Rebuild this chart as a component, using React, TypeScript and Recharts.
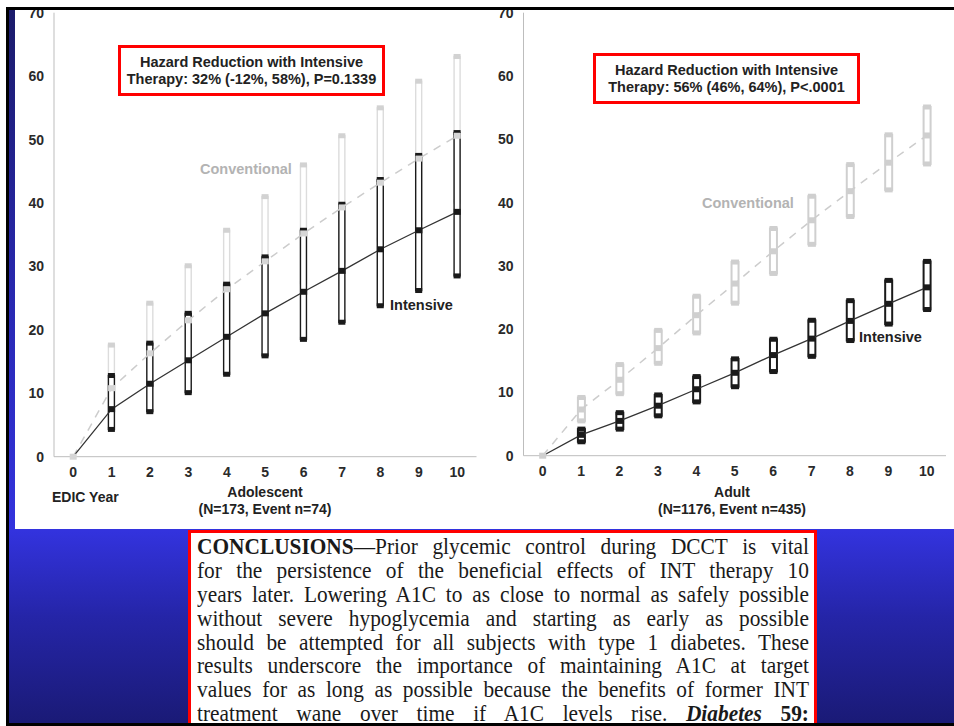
import React from "react";
import { ComposedChart, Line, Bar, XAxis, YAxis } from "recharts";

const years = [0, 1, 2, 3, 4, 5, 6, 7, 8, 9, 10];
const yTicks = [0, 10, 20, 30, 40, 50, 60, 70];

// Adolescent (N=173)
const adoInt = [0, 7.5, 11.5, 15.2, 18.9, 22.6, 26.0, 29.3, 32.7, 35.7, 38.6];
const adoIntLo = [null, 4.3, 7.1, 10.1, 13.0, 15.9, 18.5, 21.2, 23.8, 26.2, 28.5];
const adoIntHi = [null, 12.8, 17.9, 22.6, 27.2, 31.5, 35.7, 39.8, 43.7, 47.5, 51.1];
const adoConv = [0, 10.8, 16.3, 21.5, 26.4, 30.8, 35.2, 39.3, 43.2, 47.0, 50.6];
const adoConvLo = [null, 6.8, 11.0, 15.2, 19.4, 23.4, 27.3, 30.7, 34.2, 37.3, 40.2];
const adoConvHi = [null, 17.6, 24.2, 30.1, 35.7, 41.0, 46.0, 50.6, 55.0, 59.2, 63.1];

// Adult (N=1176)
const aduInt = [0, 3.3, 5.5, 7.9, 10.5, 13.1, 15.9, 18.5, 21.3, 24.0, 26.6];
const aduIntLo = [null, 2.2, 4.2, 6.3, 8.5, 10.9, 13.3, 15.7, 18.2, 20.8, 23.1];
const aduIntHi = [null, 4.2, 6.8, 9.6, 12.5, 15.3, 18.4, 21.4, 24.5, 27.7, 30.7];
const aduConv = [0, 7.3, 12.0, 17.0, 22.2, 27.2, 32.3, 37.2, 41.8, 46.3, 50.6];
const aduConvLo = [null, 5.5, 9.8, 14.6, 19.4, 24.1, 28.8, 33.4, 37.8, 42.0, 46.1];
const aduConvHi = [null, 9.2, 14.4, 19.8, 25.2, 30.6, 35.9, 41.0, 46.0, 50.7, 55.1];

const conclusionLines = [
  "for the persistence of the beneficial effects of INT therapy 10",
  "years later. Lowering A1C to as close to normal as safely possible",
  "without severe hypoglycemia and starting as early as possible",
  "should be attempted for all subjects with type 1 diabetes. These",
  "results underscore the importance of maintaining A1C at target",
  "values for as long as possible because the benefits of former INT",
];

const FONT = '"Liberation Sans", Arial, sans-serif';

const buildRows = (int: any[], intLo: any[], intHi: any[], conv: any[], convLo: any[], convHi: any[]) =>
  years.map((year, i) => ({
    year,
    int: int[i],
    conv: conv[i],
    intRange: intLo[i] == null ? null : [intLo[i], intHi[i]],
    convRange: convLo[i] == null ? null : [convLo[i], convHi[i]],
  }));

const ciShape = (stroke: string, cap: string, sw: number, capW: number) => (props: any) => {
  const { x, y, width, height } = props;
  if (x == null || y == null || !height) return <g />;
  const cx = x + width / 2;
  return (
    <g>
      <rect x={x} y={y} width={width} height={height} fill="#fff" stroke={stroke} strokeWidth={sw} />
      <rect x={cx - capW / 2} y={y - 2.5} width={capW} height={5} fill={cap} />
      <rect x={cx - capW / 2} y={y + height - 2.5} width={capW} height={5} fill={cap} />
    </g>
  );
};

const squareDot = (fill: string, w: number, h: number, skipFirst: boolean) => (props: any) => {
  const { cx, cy, index } = props;
  if (cx == null || cy == null || (skipFirst && index === 0)) return <g key={index} />;
  return <rect key={index} x={cx - w / 2} y={cy - h / 2} width={w} height={h} fill={fill} />;
};

const tickStyle = { fill: "#2a2a2a", fontSize: 14, fontWeight: 700, fontFamily: FONT };

function Panel({ rows, width, yWidth, right, bottom, heavy }: any) {
  const convStroke = heavy ? "#cfcfcf" : "#dcdcdc";
  const convCap = heavy ? "#cfcfcf" : "#d2d2d2";
  const barW = heavy ? 7 : 6;
  const sw = heavy ? 2 : 1.4;
  return (
    <ComposedChart width={width} height={500} data={rows} margin={{ top: 12.7, right, bottom, left: 0 }}>
      <XAxis
        xAxisId={0}
        dataKey="year"
        type="number"
        domain={[-0.5, 10.5]}
        ticks={years}
        interval={0}
        height={30}
        tickLine={false}
        tickSize={0}
        tickMargin={10}
        axisLine={{ stroke: "#bdbdbd" }}
        tick={tickStyle}
      />
      <XAxis xAxisId={1} dataKey="year" type="number" domain={[-0.5, 10.5]} hide />
      <YAxis
        domain={[0, 70]}
        ticks={yTicks}
        width={yWidth}
        tickLine={false}
        tickSize={0}
        tickMargin={10}
        axisLine={{ stroke: "#bdbdbd" }}
        tick={tickStyle}
      />
      <Bar
        xAxisId={1}
        dataKey="convRange"
        barSize={barW}
        shape={ciShape(convStroke, convCap, sw, barW + 1)}
        isAnimationActive={false}
      />
      <Bar
        xAxisId={0}
        dataKey="intRange"
        barSize={barW}
        shape={ciShape("#1a1a1a", "#1a1a1a", sw, barW + 1)}
        isAnimationActive={false}
      />
      <Line
        xAxisId={0}
        dataKey="conv"
        stroke="#cccccc"
        strokeWidth={1.5}
        strokeDasharray="8 7"
        dot={squareDot(heavy ? "#cfcfcf" : "#d6d6d6", 7, 6, false)}
        isAnimationActive={false}
      />
      <Line
        xAxisId={0}
        dataKey="int"
        stroke="#333333"
        strokeWidth={1.3}
        dot={squareDot("#1a1a1a", 7, 6, true)}
        isAnimationActive={false}
      />
    </ComposedChart>
  );
}

const abs = (left: number, top: number, extra: any = {}) => ({ position: "absolute" as const, left, top, ...extra });

function Label({ x, y, text, color = "#222", size = 14.5, center = false }: any) {
  return (
    <div
      style={abs(x, y, {
        transform: center ? "translate(-50%, -50%)" : "translateY(-50%)",
        whiteSpace: "nowrap",
        color,
        fontSize: size,
        fontWeight: 700,
        fontFamily: FONT,
        lineHeight: 1,
      })}
    >
      {text}
    </div>
  );
}

function HazardBox({ x, y, lines }: any) {
  return (
    <div
      style={abs(x, y, {
        width: 267,
        height: 51,
        boxSizing: "border-box",
        border: "3px solid #ff0000",
        background: "#fff",
        display: "flex",
        flexDirection: "column",
        justifyContent: "center",
        alignItems: "center",
        fontFamily: FONT,
        fontWeight: 700,
        fontSize: 14.5,
        lineHeight: "17px",
        color: "#222",
        whiteSpace: "nowrap",
      })}
    >
      {lines.map((t: string) => (
        <div key={t}>{t}</div>
      ))}
    </div>
  );
}

export default function App() {
  const adoRows = buildRows(adoInt, adoIntLo, adoIntHi, adoConv, adoConvLo, adoConvHi);
  const aduRows = buildRows(aduInt, aduIntLo, aduIntHi, aduConv, aduConvLo, aduConvHi);
  const lineStyle = { textAlign: "justify" as const, textAlignLast: "justify" as const, height: 23.9 };
  const squeeze = 0.89;

  return (
    <div style={abs(0, 0, { width: 954, height: 726, background: "#fff", overflow: "hidden" })}>
      {/* slide background */}
      <div
        style={abs(9, 9, {
          width: 945,
          height: 714,
          background: "linear-gradient(to bottom, #1b1b6a 0%, #2a2ab8 45%, #3333de 73%, #2525a8 85%, #1a1a76 100%)",
        })}
      />
      <div style={abs(15, 9, { width: 939, height: 520, background: "#fff" })} />

      {/* charts */}
      <div style={abs(0, 0)}>
        <Panel rows={adoRows} width={480} yWidth={54} right={3.5} bottom={13.3} heavy={false} />
      </div>
      <div style={abs(480, 0)}>
        <Panel rows={aduRows} width={474} yWidth={43.5} right={8} bottom={14.3} heavy={true} />
      </div>

      <HazardBox x={118} y={45} lines={["Hazard Reduction with Intensive", "Therapy: 32% (-12%, 58%), P=0.1339"]} />
      <HazardBox x={593} y={53} lines={["Hazard Reduction with Intensive", "Therapy: 56% (46%, 64%), P<.0001"]} />

      <Label x={200} y={169} text="Conventional" color="#b3b3b3" />
      <Label x={390} y={305} text="Intensive" />
      <Label x={702} y={203} text="Conventional" color="#b3b3b3" />
      <Label x={859} y={337} text="Intensive" />

      <Label x={52} y={497} text="EDIC Year" size={14} />
      <Label x={265} y={492} text="Adolescent" size={14} center />
      <Label x={265} y={509} text="(N=173, Event n=74)" size={14} center />
      <Label x={732} y={492} text="Adult" size={14} center />
      <Label x={732} y={509} text="(N=1176, Event n=435)" size={14} center />

      {/* conclusions box */}
      <div
        style={abs(188, 530, {
          width: 629,
          height: 200,
          boxSizing: "border-box",
          border: "3px solid #ff0000",
          background: "#fff",
          overflow: "hidden",
        })}
      >
        <div
          style={{
            width: 612 / squeeze,
            marginLeft: 6,
            paddingTop: 2,
            transform: `scaleX(${squeeze})`,
            transformOrigin: "left top",
            fontFamily: '"Liberation Serif", "Times New Roman", serif',
            fontSize: 24,
            lineHeight: "23.9px",
            color: "#1a1a1a",
          }}
        >
          <div style={lineStyle}>
            <b>CONCLUSIONS</b>—Prior glycemic control during DCCT is vital
          </div>
          {conclusionLines.map((t) => (
            <div key={t} style={lineStyle}>
              {t}
            </div>
          ))}
          <div style={lineStyle}>
            treatment wane over time if A1C levels rise. <b><i>Diabetes</i> 59:</b>
          </div>
        </div>
      </div>

      {/* black frame */}
      <div style={abs(6, 7, { width: 948, height: 2.5, background: "#000" })} />
      <div style={abs(6, 7, { width: 3, height: 719, background: "#000" })} />
      <div style={abs(6, 723, { width: 948, height: 3, background: "#000" })} />
    </div>
  );
}
